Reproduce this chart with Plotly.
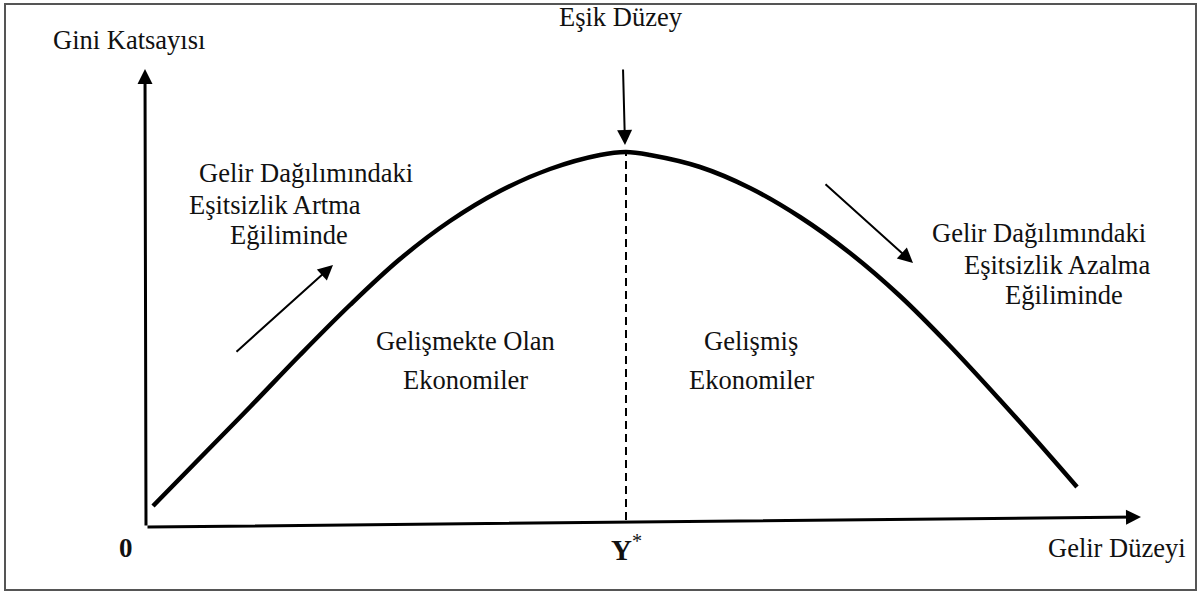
import plotly.graph_objects as go

# Kuznets curve (income level vs Gini, arbitrary units)
income = [7, 54, 104, 154, 204, 254, 304, 354, 404, 454, 480, 504, 554, 604, 654, 704, 754, 804, 854, 904, 931]
gini = [21, 69, 120, 172, 222, 268, 306, 336, 358, 372, 375, 372, 360, 339, 310, 274, 231, 181, 127, 71, 40]
threshold_income = 480  # Y*

FONT = "Liberation Serif"
INK = "#111"

fig = go.Figure()

# the curve
fig.add_trace(go.Scatter(x=income, y=gini, mode="lines", line=dict(color="black", width=4.5, shape="spline"),
                         hoverinfo="skip", showlegend=False))
# dashed drop line at the threshold
fig.add_trace(go.Scatter(x=[threshold_income, threshold_income], y=[7, max(gini)], mode="lines",
                         line=dict(color="black", width=2, dash="8px,5px"), hoverinfo="skip", showlegend=False))


def arrow(tail, tip, width=2, size=1.5):
    fig.add_annotation(x=tip[0], y=tip[1], ax=tail[0], ay=tail[1], xref="x", yref="y", axref="x", ayref="y",
                       text="", showarrow=True, arrowhead=2, arrowsize=size, arrowwidth=width,
                       arrowcolor="black", standoff=0)


def label(x, y, txt, anchor="center", size=26.5):
    fig.add_annotation(x=x, y=y, text=txt, showarrow=False, xanchor=anchor, yanchor="middle",
                       font=dict(family=FONT, size=size, color=INK))


# axes
arrow((0, 0), (995, 10), width=3, size=1.0)
arrow((0, 0), (-1, 458), width=3, size=1.0)
# direction arrows
arrow((477, 459), (479, 382))
arrow((89, 174), (187, 262))
arrow((678, 344), (767, 264))

label(-17, 487, "Gini Katsayısı")
label(475, 510, "Eşik Düzey")
label(51, 354, "Gelir Dağılımındaki", "left")
label(41, 322, "Eşitsizlik Artma", "left")
label(82, 292, "Eğiliminde", "left")
label(784, 294, "Gelir Dağılımındaki", "left")
label(816, 262, "Eşitsizlik Azalma", "left")
label(857, 232, "Eğiliminde", "left")
label(319, 186, "Gelişmekte Olan")
label(319, 147, "Ekonomiler")
label(605, 186, "Gelişmiş")
label(605, 147, "Ekonomiler")
label(-20, -21, "<b>0</b>", size=27)
label(threshold_income, -21, "<b>Y</b><sup>*</sup>", size=29)
label(971, -21, "Gelir Düzeyi")

# outer frame
fig.add_shape(type="rect", x0=-141, x1=1050, y0=-63, y1=523, line=dict(color="#555", width=2))

fig.update_xaxes(range=[-146, 1054], visible=False)
fig.update_yaxes(range=[-65, 527], visible=False)
fig.update_layout(width=1200, height=592, autosize=False, margin=dict(l=0, r=0, t=0, b=0),
                  paper_bgcolor="white", plot_bgcolor="white")

# drop the browser's default 8px body margin so the figure fills the window
fig.write_html("out.html", config={"displayModeBar": False},
               post_script="document.body.style.margin='0';")
